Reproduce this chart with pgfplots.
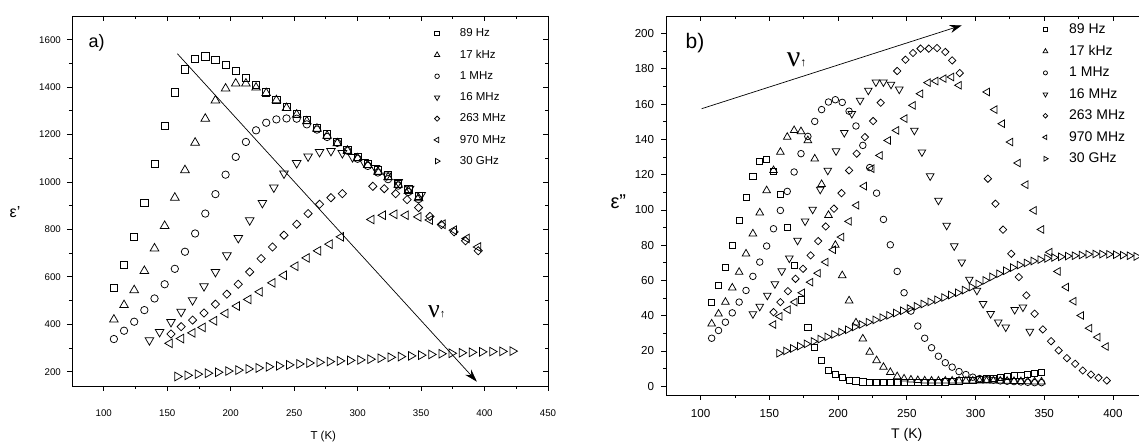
\documentclass[border=0pt]{standalone}
\usepackage{fontspec}
\setmainfont{Liberation Sans}
\newfontfamily\seriff{Liberation Serif}
\usepackage{pgfplots}
\pgfplotsset{compat=1.18}
\usetikzlibrary{arrows.meta}
\pgfplotsset{
  common/.style={scale only axis, axis line style={line width=0.9pt},
    /pgf/number format/assume math mode=true, /pgf/number format/1000 sep={},
    major tick length=5pt, minor tick length=3pt, tick style={line width=0.8pt,black},
    minor x tick num=1, minor y tick num=1},
  mk/.style={black, line width=0.75pt, only marks},
  limg/.style={legend image code/.code={
     \draw[mark repeat=2, mark phase=2, ##1, every mark/.append style={scale=0.62}] plot coordinates {(0pt,0pt) (4pt,0pt) (8pt,0pt)};}},
}
\begin{document}
\begin{tikzpicture}
% ---------------- panel a ----------------
\begin{axis}[common, at={(72pt,57pt)}, anchor=south west, width=476pt, height=370pt,
  xmin=75, xmax=450, ymin=140, ymax=1700,
  xtick={100,150,...,450}, ytick={200,400,...,1600},
  axis x line*=bottom, axis y line*=left, tick align=outside,
  tick label style={font=\fontsize{9.7}{11}\selectfont},
  yticklabel style={inner sep=0pt, xshift=-6pt},
  xticklabel style={inner sep=0pt, yshift=-19pt},
  limg, legend cell align=left,
  legend style={draw=none, fill=none, at={(0.7605,0.9654)}, anchor=north west,
    inner sep=0pt, outer sep=0pt, row sep=11.7pt, column sep=19.7pt,
    font=\fontsize{11.5}{12}\selectfont, nodes={inner sep=0pt}}]
\addplot[mk, mark=square, mark size=3.6] coordinates {(108,554)(116,649)(124,770)(132,913)(140,1075)(148,1238)(156,1378)(164,1475)(172,1520)(180,1530)(188,1516)(196,1495)(204,1467)(212,1439)(220,1409)(228,1378)(236,1347)(244,1318)(252,1288)(260,1263)(268,1229)(276,1201)(284,1169)(292,1137)(300,1105)(308,1078)(316,1049)(324,1028)(332,993)(340,972)(348,940)};
\addlegendentry{89 Hz}
\addplot[mk, mark=triangle, mark size=5] coordinates {(108,420)(116,481)(124,544)(132,625)(140,720)(148,815)(156,934)(164,1050)(172,1166)(180,1267)(188,1344)(196,1394)(204,1415)(212,1415)(220,1398)(228,1375)(236,1345)(244,1312)(252,1284)(260,1256)(268,1225)(276,1195)(284,1163)(292,1132)(300,1100)(308,1072)(316,1043)(324,1020)(332,988)(340,962)(348,932)};
\addlegendentry{17 kHz}
\addplot[mk, mark=o, mark size=3.7] coordinates {(108,338)(116,373)(124,411)(132,460)(140,509)(148,569)(156,634)(164,706)(172,783)(180,867)(188,949)(196,1031)(204,1106)(212,1169)(220,1218)(228,1250)(236,1264)(244,1268)(252,1267)(260,1243)(268,1221)(276,1190)(284,1165)(292,1132)(300,1098)(308,1068)(316,1040)(324,1012)(332,985)(340,958)(348,928)};
\addlegendentry{1 MHz}
\addplot[mk, mark=triangle, mark size=5, mark options={rotate=180}] coordinates {(136,333)(144,368)(153,410)(161,453)(170,502)(179,561)(188,621)(197,691)(206,764)(215,839)(225,912)(234,977)(242,1036)(252,1080)(261,1108)(270,1127)(279,1131)(288,1122)(296,1105)(305,1084)(314,1059)(323,1028)(332,1000)(341,972)(350,945)};
\addlegendentry{16 MHz}
\addplot[mk, mark=square, mark size=2.9, mark options={rotate=45}] coordinates {(153,359)(161,390)(170,418)(179,448)(188,485)(197,527)(206,569)(215,621)(224,677)(233,726)(242,776)(252,822)(261,867)(270,906)(279,934)(288,951)(312,982)(321,972)(330,951)(339,926)(348,892)(357,855)(366,820)(376,790)(385,752)(395,710)};
\addlegendentry{263 MHz}
\addplot[mk, mark=triangle, mark size=5, mark options={rotate=90}] coordinates {(152,320)(161,340)(170,364)(178,387)(187,415)(196,446)(205,477)(214,505)(223,537)(233,575)(242,607)(251,645)(260,680)(269,710)(278,738)(287,769)(311,842)(320,860)(329,864)(338,860)(348,853)(357,840)(367,822)(376,797)(386,762)(395,726)};
\addlegendentry{970 MHz}
\addplot[mk, mark=triangle, mark size=5, mark options={rotate=-90}] coordinates {(158,180)(166,185)(174,190)(182,194)(190,198)(198,203)(206,207)(214,212)(222,216)(230,221)(238,225)(246,229)(254,233)(262,237)(270,240)(278,243)(286,246)(294,248)(302,250)(310,253)(318,257)(326,261)(334,264)(342,267)(350,270)(358,273)(366,276)(374,278)(382,280)(390,282)(398,284)(406,285)(414,286)(422,287)};
\addlegendentry{30 GHz}
\draw[line width=0.7pt, -{Stealth[length=13pt,width=8pt]}] (axis cs:158,1541) -- (axis cs:394,158);
\end{axis}
\begin{axis}[common, at={(72pt,57pt)}, anchor=south west, width=476pt, height=370pt,
  xmin=75, xmax=450, ymin=140, ymax=1700,
  xtick={100,150,...,450}, ytick={200,400,...,1600},
  axis x line*=top, axis y line*=right, tick align=inside,
  xticklabels={}, yticklabels={}]
\addplot[draw=none, forget plot] coordinates {(100,500)};
\end{axis}
% ---------------- panel b ----------------
\begin{axis}[common, at={(666.3pt,48pt)}, anchor=south west, width=475.5pt, height=379pt,
  xmin=75, xmax=421, ymin=-5, ymax=210,
  xtick={100,150,...,400}, ytick={0,20,...,200},
  axis x line*=bottom, axis y line*=left, tick align=outside,
  tick label style={font=\fontsize{11.6}{13}\selectfont},
  yticklabel style={inner sep=0pt, xshift=-7pt},
  xticklabel style={inner sep=0pt, yshift=-9pt},
  limg, legend cell align=left,
  legend style={draw=none, fill=none, at={(0.7916,0.9788)}, anchor=north west,
    inner sep=0pt, outer sep=0pt, row sep=10.2pt, column sep=21pt,
    font=\fontsize{14}{15}\selectfont, nodes={inner sep=0pt}}]
\addplot[mk, mark=square, mark size=3.1] coordinates {(108,47.7)(113,57)(118,67.5)(123,80)(128,94)(133,107)(138,119)(143,127.5)(148,128.7)(153,122)(158,108.6)(163,90)(168,68.5)(173,49)(178,33.5)(183,22)(188,14.6)(193,9)(198,6.6)(203,4.8)(208,3.5)(213,3)(218,2.5)(223,2.2)(228,2)(233,2)(238,2)(243,2)(248,2)(253,2)(258,2)(263,2)(268,2.2)(273,2.3)(278,2.5)(283,2.7)(288,3)(293,3.2)(298,3.5)(303,3.8)(308,4.1)(313,4.5)(318,5)(323,5.5)(328,6)(333,6.3)(338,6.7)(343,7.2)(348,7.7)};
\addlegendentry{89 Hz}
\addplot[mk, mark=triangle, mark size=4.4] coordinates {(108,35.4)(113,41)(118,47.7)(123,55.8)(128,64.7)(133,75.1)(138,86.5)(143,98.4)(148,111)(153,122.4)(158,132.8)(163,141.3)(168,145.1)(173,144.5)(178,139.4)(183,129)(188,114.5)(193,97)(198,80)(203,62.8)(208,48.5)(213,36)(218,26.9)(223,19.3)(228,14.6)(233,10.8)(238,7.9)(243,5.5)(248,4.2)(253,3.6)(258,3.3)(263,3.1)(268,3)(273,3)(278,3)(283,3)(288,3)(293,3)(298,3)(303,3)(308,3)(313,3)(318,3)(323,2.9)(328,2.8)(333,2.7)(338,2.6)(343,2.5)(348,2.5)};
\addlegendentry{17 kHz}
\addplot[mk, mark=o, mark size=3.3] coordinates {(108,27.2)(113,31.6)(118,36.3)(123,41.6)(128,47.7)(133,54.3)(138,62.3)(143,70.4)(148,79.5)(153,89.3)(158,99.7)(163,110.5)(168,121.5)(173,131.9)(178,141.7)(183,150.2)(188,156.9)(193,161.2)(198,162.5)(203,161)(208,156)(213,147.6)(218,136.6)(223,124)(228,109.5)(233,94.6)(238,80.2)(243,65.1)(248,53)(253,42.6)(258,34.1)(263,27.2)(268,21.8)(273,17)(278,13.3)(283,10.8)(288,8.3)(293,6.6)(298,5.1)(303,4.3)(308,3.8)(313,3.4)(318,3)(323,2.8)(328,2.6)(333,2.4)(338,2.2)(343,2)(348,2)};
\addlegendentry{1 MHz}
\addplot[mk, mark=triangle, mark size=4.4, mark options={rotate=180}] coordinates {(138,41)(143,45.2)(148.5,51.5)(154,58)(159,65.3)(164.5,72.6)(170.5,82.7)(176,93.6)(181.5,100.3)(187,111.6)(192.5,122.4)(198.5,133.4)(204.5,143.8)(210,154.6)(216,162.1)(222,167.8)(227.5,172.5)(233,172.5)(238.5,171.2)(244.5,168.4)(255.5,145.1)(261,132.8)(267,119.2)(273,105.4)(279,91.2)(284.5,79.5)(290,70.4)(295.5,60.6)(301,54.3)(305.5,46.8)(311,41.1)(316.5,36.3)(322,33.5)(328.5,43.4)(334.5,44.8)(339.5,31)};
\addlegendentry{16 MHz}
\addplot[mk, mark=square, mark size=2.6, mark options={rotate=45}] coordinates {(153,42)(158,47.7)(163.5,53.9)(169,60.9)(174.5,66.6)(180,74.2)(185.5,82.3)(191,90.6)(197,100.7)(202.5,109.5)(208,122.4)(213.5,131.9)(219.5,141.3)(225.5,150.4)(231,160.8)(243,178.8)(249,185.2)(254.5,189)(260,191.5)(266,191.5)(272,191.8)(278,189.6)(283,184.8)(288.5,177.6)(309,117.7)(314.5,103.5)(320,88.8)(326,75.1)(331.5,61.9)(337,51.5)(343,41.1)(349,32.2)(355,25.5)(360.5,20.3)(366.5,15.9)(372.5,12.7)(378,8.9)(384,6.6)(389.5,4.8)(395.5,3.2)};
\addlegendentry{263 MHz}
\addplot[mk, mark=triangle, mark size=4.4, mark options={rotate=90}] coordinates {(153,35)(157.5,39.6)(163.5,43.4)(168.5,47.7)(174,53)(180,59)(185.5,64.1)(191,70.4)(196.5,77.4)(202.5,84.6)(208,93.5)(213.5,102.6)(219,113.5)(224.5,123.4)(230.5,130.9)(236.5,139.4)(242.5,145.1)(248.5,151.8)(254.5,159.3)(260,165.9)(265.5,172.2)(271,173.1)(277,174.5)(282.5,175.4)(288,170.7)(308.5,166.9)(314,156.9)(319.5,148.9)(325.5,138.5)(331,126.6)(336.5,114.3)(342.5,99.7)(348,88.9)(354,76)(360,65.1)(366,56.2)(371.5,48.2)(377,40.1)(383,32.9)(389,27.8)(395,22.5)};
\addlegendentry{970 MHz}
\addplot[mk, mark=triangle, mark size=4.4, mark options={rotate=-90}] coordinates {(157,18.7)(162,20)(167,21.4)(172,22.7)(177,24)(182,25.4)(187,26.7)(192,28)(197,29.4)(202,30.7)(207,32)(212,33.6)(217,35)(222,36.3)(227,37.6)(232,38.9)(237,40.2)(242,41.5)(247,42.8)(252,44)(257,45.3)(262,46.6)(267,47.8)(272,49)(277,50.3)(282,51.7)(287,53)(292,54.5)(297,56.2)(302,58)(307,60)(312,62)(317,63.8)(322,65.5)(327,67.3)(332,68.7)(337,69.9)(342,71)(347,71.8)(352,72.5)(357,73)(362,73.4)(367,73.8)(372,74)(377,74.4)(382,74.8)(387,75)(392,74.9)(397,74.8)(402,74.6)(407,74.3)(412,74)(417,73.6)};
\addlegendentry{30 GHz}
\draw[line width=0.7pt, -{Stealth[length=12pt,width=8pt]}] (axis cs:100.7,157.4) -- (axis cs:290,204.7);
\end{axis}
\begin{axis}[common, at={(666.3pt,48pt)}, anchor=south west, width=475.5pt, height=379pt,
  xmin=75, xmax=421, ymin=-5, ymax=210,
  xtick={100,150,...,400}, ytick={0,20,...,200},
  axis x line*=top, axis y line=none, tick align=inside,
  xticklabels={}, yticklabels={}]
\addplot[draw=none, forget plot] coordinates {(100,50)};
\end{axis}
% ---------------- labels ----------------
\node[font=\fontsize{16}{16}\selectfont] at (15pt,231.3pt) {ε\symbol{"0027}};
\node[font=\fontsize{20}{20}\selectfont] at (618.3pt,241.3pt) {ε\symbol{"0022}};
\node[font=\fontsize{11.5}{12}\selectfont] at (323.3pt,6.3pt) {T (K)};
\node[font=\fontsize{14}{15}\selectfont] at (906.7pt,8pt) {T (K)};
\node[font=\fontsize{18}{18}\selectfont] at (96.7pt,399.7pt) {a)};
\node[font=\fontsize{21}{21}\selectfont] at (695pt,399.7pt) {b)};
\node at (436.7pt,131.3pt) {{\seriff\fontsize{26}{26}\selectfont ν}{\fontsize{11}{11}\selectfont ↑}};
\node at (796.7pt,383pt) {{\seriff\fontsize{30}{30}\selectfont ν}{\fontsize{12}{12}\selectfont ↑}};
\pgfresetboundingbox
\useasboundingbox (0pt,0pt) rectangle (1139pt,443pt);
\end{tikzpicture}
\end{document}
